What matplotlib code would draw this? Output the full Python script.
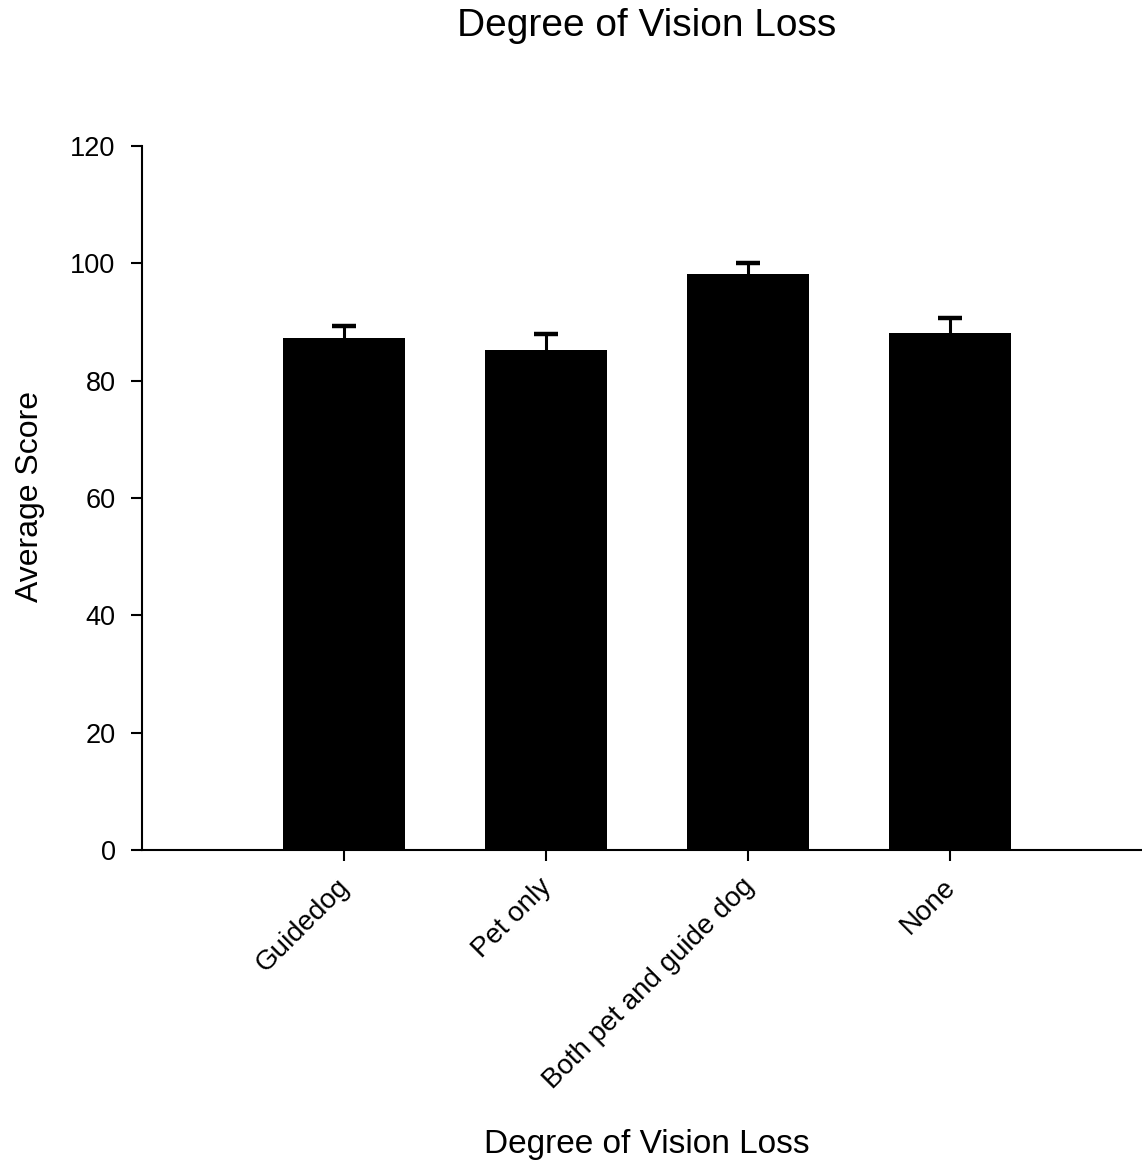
import matplotlib
matplotlib.use("Agg")
import matplotlib.pyplot as plt
from matplotlib.transforms import ScaledTranslation

categories = ["Guidedog", "Pet only", "Both pet and guide dog", "None"]
means = [87.3, 85.3, 98.1, 88.2]
errors = [2.0, 2.7, 1.9, 2.4]
yticks = [0, 20, 40, 60, 80, 100, 120]

plt.rcParams['font.family'] = ['Liberation Sans', 'DejaVu Sans']

W, H = 1142, 1165
fig = plt.figure(figsize=(W / 100, H / 100), dpi=100)
ax = fig.add_axes([142 / W, 1 - 850 / H, 1010 / W, 704 / H])

x = list(range(len(categories)))
ax.bar(x, means, width=0.6, color='black', zorder=3)
ax.errorbar(x, means, yerr=errors, fmt='none',
            ecolor='black', elinewidth=2.2, capsize=8.6, capthick=3.2, zorder=2)

ax.set_xlim(-1, 4)
ax.set_ylim(0, 120)
ax.set_yticks(yticks)
ax.set_xticks(x)
ax.set_xticklabels(categories, rotation=45, ha='right', va='top', fontsize=20)
ax.tick_params(axis='y', labelsize=19.5, length=8, width=1.5, pad=11)
ax.tick_params(axis='x', length=8, width=1.5, pad=9)
offset = ScaledTranslation(11 / 100, 0, fig.dpi_scale_trans)
for lbl in ax.get_xticklabels():
    lbl.set_transform(lbl.get_transform() + offset)

for s in ['top', 'right']:
    ax.spines[s].set_visible(False)
for s in ['left', 'bottom']:
    ax.spines[s].set_linewidth(1.5)

fig.text(647 / W, 1 - 26 / H, "Degree of Vision Loss", ha='center', va='center', fontsize=28)
fig.text(647 / W, 1 - 1145 / H, "Degree of Vision Loss", ha='center', va='center', fontsize=24)
fig.text(30 / W, 1 - 496 / H, "Average Score", ha='center', va='center', rotation=90, fontsize=23)

fig.savefig("out.png", dpi=100)
